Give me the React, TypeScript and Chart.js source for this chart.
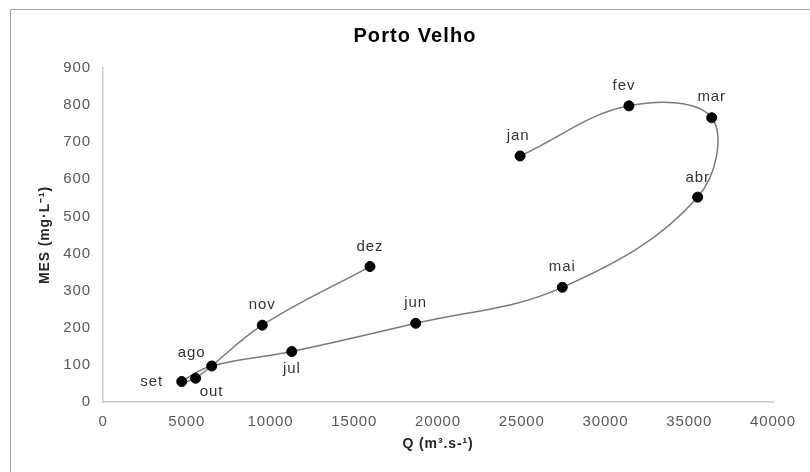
import React, { useEffect, useRef } from "react";
import { Chart, registerables } from "chart.js";

Chart.register(...registerables);

// ---- data ----
const months = ["jan", "fev", "mar", "abr", "mai", "jun", "jul", "ago", "set", "out", "nov", "dez"];
const discharge = [24900, 31400, 36340, 35500, 27420, 18670, 11270, 6490, 4700, 5530, 9510, 15940];
const mes = [663, 798, 766, 552, 309, 212, 136, 97, 55, 64, 207, 365];
const xTickValues = [0, 5000, 10000, 15000, 20000, 25000, 30000, 35000, 40000];
const yTickValues = [0, 100, 200, 300, 400, 500, 600, 700, 800, 900];

const chartTitle = "Porto Velho";
const xTitle = "Q (m³.s-¹)";
const yTitle = "MES (mg·L⁻¹)";

// label placement (offsets from the point, px)
const labelOffsets: Record<string, [number, number]> = {
  jan: [-2, -20],
  fev: [-5, -20],
  mar: [0, -21],
  abr: [0, -19],
  mai: [0, -20],
  jun: [0, -20],
  jul: [0, 17],
  ago: [-20, -13],
  set: [-30, 0],
  out: [16, 14],
  nov: [0, -20],
  dez: [0, -20],
};

const FONT = "'Liberation Sans', Arial, sans-serif";

const decorPlugin = {
  id: "decor",
  beforeDraw(chart: any) {
    const ctx = chart.ctx;
    ctx.save();
    ctx.fillStyle = "#ffffff";
    ctx.fillRect(0, 0, chart.width, chart.height);
    ctx.strokeStyle = "#a6a6a6";
    ctx.lineWidth = 1;
    ctx.beginPath();
    ctx.moveTo(10.5, chart.height);
    ctx.lineTo(10.5, 9.5);
    ctx.lineTo(chart.width, 9.5);
    ctx.stroke();
    ctx.restore();
    ctx.letterSpacing = "0.9px";
  },
  afterDraw(chart: any) {
    const ctx = chart.ctx;
    ctx.save();
    ctx.letterSpacing = "1.1px";
    ctx.font = `bold 20px ${FONT}`;
    ctx.fillStyle = "#000000";
    ctx.textAlign = "center";
    ctx.textBaseline = "middle";
    ctx.fillText(chartTitle, 415, 36);
    ctx.restore();
  },
  afterDatasetsDraw(chart: any) {
    const ctx = chart.ctx;
    const meta = chart.getDatasetMeta(0);
    ctx.save();
    ctx.letterSpacing = "0.9px";
    ctx.font = `15px ${FONT}`;
    ctx.fillStyle = "#333333";
    ctx.textAlign = "center";
    ctx.textBaseline = "middle";
    meta.data.forEach((pt: any, i: number) => {
      const name = months[i];
      const off = labelOffsets[name] || [0, -20];
      ctx.fillText(name, pt.x + off[0], pt.y + off[1]);
    });
    ctx.restore();
  },
};

export default function App() {
  const canvasRef = useRef<HTMLCanvasElement | null>(null);

  useEffect(() => {
    if (!canvasRef.current) return;
    const chart = new Chart(canvasRef.current, {
      type: "scatter",
      data: {
        datasets: [
          {
            label: chartTitle,
            data: discharge.map((x, i) => ({ x, y: mes[i] })),
            showLine: true,
            tension: 0.38,
            borderColor: "#7a7a7a",
            borderWidth: 1.5,
            pointRadius: 5,
            pointHoverRadius: 5,
            pointBackgroundColor: "#000000",
            pointBorderColor: "#000000",
            pointBorderWidth: 1,
          },
        ],
      },
      options: {
        animation: false,
        responsive: false,
        events: [],
        layout: { padding: { top: 68, left: 20, right: 37, bottom: 0 } },
        plugins: {
          legend: { display: false },
          title: { display: false },
          tooltip: { enabled: false },
        },
        scales: {
          x: {
            type: "linear",
            min: 0,
            max: 40000,
            afterBuildTicks: (s: any) => {
              s.ticks = xTickValues.map((v) => ({ value: v }));
            },
            afterFit: (s: any) => {
              s.height = 70;
            },
            grid: { display: false, drawTicks: false },
            border: { display: true, color: "#cccccc", width: 1.5 },
            ticks: {
              autoSkip: false,
              maxRotation: 0,
              padding: 11,
              color: "#595959",
              font: { family: FONT, size: 15 },
              callback: (v: any) => String(v),
            },
            title: {
              display: true,
              text: xTitle,
              color: "#262626",
              font: { family: FONT, size: 14, weight: "bold" },
              padding: { top: 0, bottom: 19.6 },
            },
          },
          y: {
            type: "linear",
            min: 0,
            max: 900,
            afterBuildTicks: (s: any) => {
              s.ticks = yTickValues.map((v) => ({ value: v }));
            },
            afterFit: (s: any) => {
              s.width = 83;
            },
            grid: { display: false, drawTicks: false },
            border: { display: true, color: "#cccccc", width: 1.5 },
            ticks: {
              autoSkip: false,
              padding: 12,
              color: "#595959",
              font: { family: FONT, size: 15 },
              callback: (v: any) => String(v),
            },
            title: {
              display: true,
              text: yTitle,
              color: "#262626",
              font: { family: FONT, size: 14, weight: "bold" },
              padding: { top: 16.6, bottom: 0 },
            },
          },
        },
      },
      plugins: [decorPlugin],
    });
    return () => chart.destroy();
  }, []);

  return (
    <div style={{ position: "fixed", left: 0, top: 0, width: 810, height: 472, background: "#fff" }}>
      <canvas ref={canvasRef} width={810} height={472} />
    </div>
  );
}
